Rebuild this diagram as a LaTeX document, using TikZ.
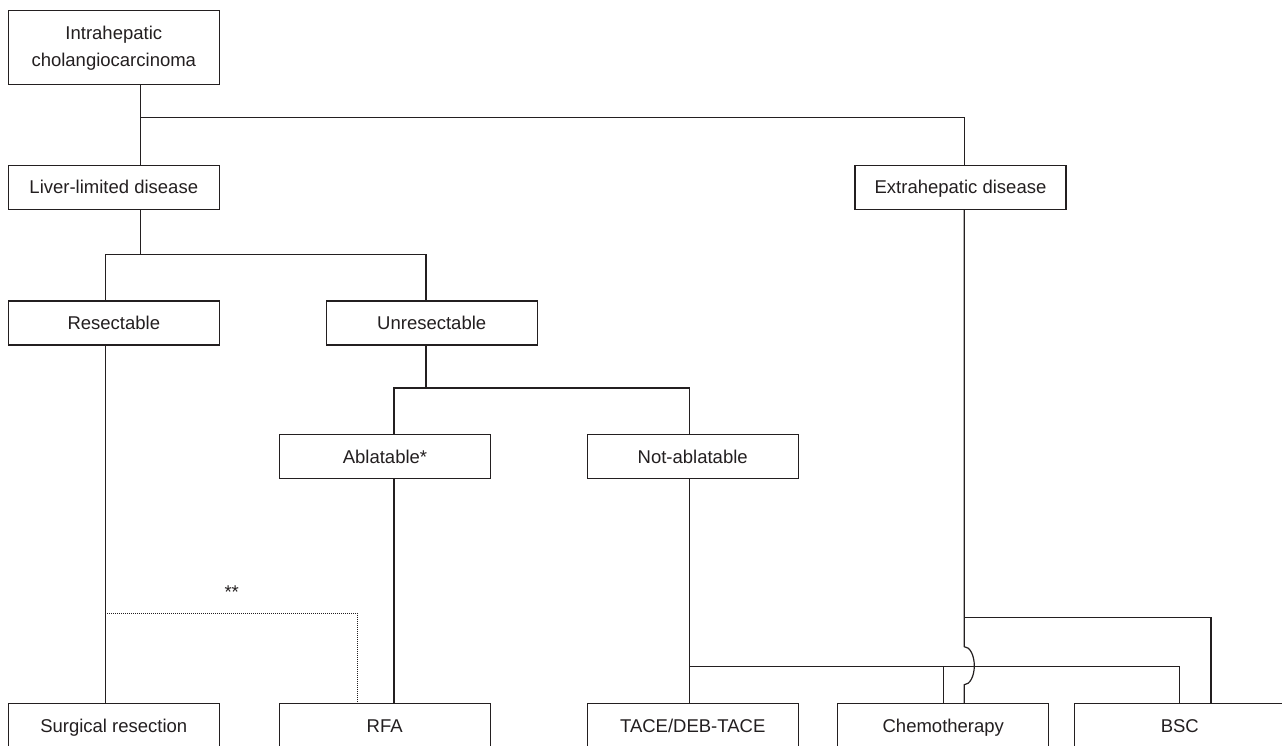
\documentclass[tikz,border=0pt]{standalone}
\usepackage{fontspec}
\setmainfont{Liberation Sans}
\usepackage{tikz}

\definecolor{ink}{RGB}{35,31,32}

\begin{document}
\begin{tikzpicture}[x=1pt, y=-1pt,
		frame/.style={draw=ink, line width=1.2pt, text=ink, minimum width=211pt, minimum height=44pt, inner sep=0pt, align=center, font=\fontsize{18.5}{27}\selectfont},
		box/.style={frame, text height=13.2pt, text depth=0pt},
		link/.style={draw=ink, line width=1.2pt}]
	
	% Page frame (bottom boxes run off the page)
	\clip (0,0) rectangle (1282,746);
	\fill[white] (0,0) rectangle (1282,746);
	
	% Boxes of the tree
	\node[frame, minimum height=74pt] (intra) at (113.8,47.3) {\raisebox{-5pt}{\begin{tabular}{@{}c@{}}Intrahepatic\\cholangiocarcinoma\end{tabular}}};
	\node[box] (liver) at (113.8,187.2) {Liver-limited disease};
	\node[box] (extra) at (960.5,187.2) {Extrahepatic disease};
	\node[box] (resect) at (113.8,323) {Resectable};
	\node[box] (unres) at (431.7,323) {Unresectable};
	\node[box] (abl) at (385,456.7) {Ablatable*};
	\node[box] (notabl) at (692.7,456.5) {Not-ablatable};
	
	% Treatments (bottom row)
	\node[box] (surg) at (113.8,725.7) {Surgical resection};
	\node[box] (rfa) at (384.7,725.7) {RFA};
	\node[box] (tace) at (692.7,725.7) {TACE/DEB-TACE};
	\node[box] (chemo) at (943.3,725.7) {Chemotherapy};
	\node[box] (bsc) at (1179.8,725.7) {BSC};
	
	% Junctions and trunk positions
	\coordinate (j1) at (140.7,117.7);
	\coordinate (j2) at (140.7,254.3);
	\coordinate (j3) at (426,388);
	\coordinate (j4) at (689.7,666.3);
	\coordinate (k) at (964.3,617.7);
	\coordinate (xr) at (105.3,0);
	\coordinate (xu) at (426,0);
	\coordinate (xb) at (394,0);
	\coordinate (xn) at (689.7,0);
	\coordinate (xs) at (1211,0);
	\coordinate (d) at (357.7,613.3);
	
	% First split
	\draw[link] (intra.south -| j1) -- (liver.north -| j1);
	\draw[link] (j1) -| (extra.north -| k);
	
	% Liver-limited disease
	\draw[link] (liver.south -| j2) -- (j2);
	\draw[link] (resect.north -| xr) |- (j2) -| (unres.north -| xu);
	\draw[link] (unres.south -| xu) -- (j3);
	\draw[link] (abl.north -| xb) |- (j3) -| (notabl.north -| xn);
	
	% Down to the treatments
	\draw[link] (resect.south -| xr) -- (surg.north -| xr);
	\draw[link] (abl.south -| xb) -- (rfa.north -| xb);
	\draw[link] (notabl.south -| xn) -- (tace.north -| xn);
	\draw[link] (j4) -| (bsc.north);
	\draw[link] (chemo.north) -- (chemo.north |- j4);
	
	% Extrahepatic disease, hopping over the line
	\draw[link] (extra.south -| k) -- (k) -- ++(0,29)
		arc[start angle=-90, end angle=90, x radius=10, y radius=19] -- (chemo.north -| k);
	\draw[link] (k) -| (bsc.north -| xs);
	
	% Dotted link resection -- RFA
	\draw[draw=ink, line width=0.9pt, dash pattern=on 1pt off 1pt] (d -| xr) -- (d) -- (rfa.north -| d);
	\node[text=ink, font=\fontsize{18.5}{22}\selectfont] (stars) at (231.7,592) {**};
	
\end{tikzpicture}
\end{document}
